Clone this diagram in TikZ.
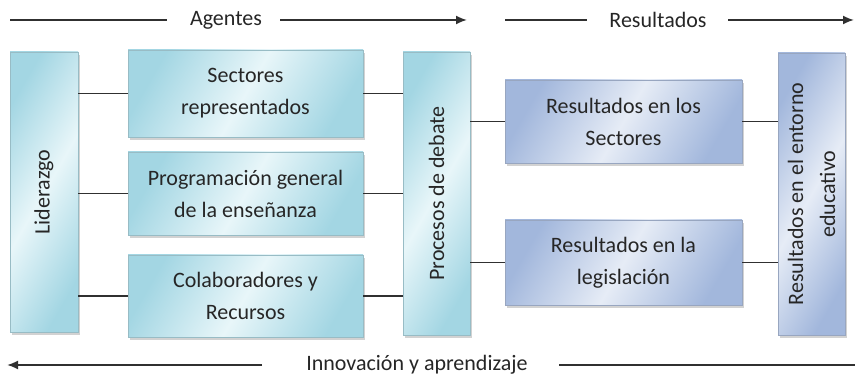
\documentclass[tikz,border=0pt]{standalone}
\usepackage{fontspec}
\setmainfont{Carlito}
\usetikzlibrary{arrows.meta,shadows}

\definecolor{agentcyan}{HTML}{A3D6E3}
\definecolor{agentlight}{HTML}{E8F6F9}
\definecolor{resblue}{HTML}{A2B7DC}
\definecolor{reslight}{HTML}{E6ECF6}
\definecolor{linegray}{HTML}{303030}

\tikzset{
  agentbox/.style={rectangle, inner sep=0pt, draw=agentcyan!70!gray, line width=0.4pt,
    left color=agentcyan, right color=agentcyan, middle color=agentlight, shading angle=60,
    drop shadow={shadow xshift=2pt, shadow yshift=-3pt, fill=gray!70}},
  resbox/.style={rectangle, inner sep=0pt, draw=resblue!70!gray, line width=0.4pt,
    left color=resblue, right color=resblue, middle color=reslight, shading angle=60,
    drop shadow={shadow xshift=2pt, shadow yshift=-3pt, fill=gray!70}},
  boxtext/.style={align=center, font=\fontsize{22}{32}\selectfont, text=black!85},
  link/.style={draw=linegray, line width=1.8pt},
  flow/.style={draw=linegray, line width=1.8pt, -{Latex[length=11pt,width=9pt]}}
}

\begin{document}
\begin{tikzpicture}[x=1pt, y=1pt]
  \useasboundingbox (0,0) rectangle (855,377);

  % Agents column
  \node[agentbox, minimum width=68, minimum height=280] (lid) at (44,185) {};
  \node[boxtext, rotate=90] (lidtext) at (lid) {Liderazgo};
  \node[agentbox, minimum width=235, minimum height=87, boxtext] (sect) at (245.5,283.5)
    {Sectores\\representados};
  \node[agentbox, minimum width=235, minimum height=83, boxtext] (prog) at (245.5,183.5)
    {Programación general\\de la enseñanza};
  \node[agentbox, minimum width=235, minimum height=82, boxtext] (colab) at (245.5,81)
    {Colaboradores y\\Recursos};

  % Debate
  \node[agentbox, minimum width=67, minimum height=283] (proc) at (436.5,183.5) {};
  \node[boxtext, rotate=90] (proctext) at (proc) {Procesos de debate};

  % Results
  \node[resbox, minimum width=237, minimum height=83, boxtext] (ressect) at (623.5,255.5)
    {Resultados en los\\Sectores};
  \node[resbox, minimum width=237, minimum height=85, boxtext] (resleg) at (623.5,114.5)
    {Resultados en la\\legislación};
  \node[resbox, minimum width=67, minimum height=282] (entorno) at (811.5,183) {};
  \node[boxtext, rotate=90] (entornotext) at (entorno) {Resultados en el entorno\\educativo};

  % Connectors
  \foreach \n in {sect, prog, colab} {
    \draw[link] (\n.west -| lid.east) -- (\n.west);
    \draw[link] (\n.east) -- (\n.east -| proc.west);
  }
  \foreach \n in {ressect, resleg} {
    \draw[link] (\n.west -| proc.east) -- (\n.west);
    \draw[link] (\n.east) -- (\n.east -| entorno.west);
  }

  % Flow labels on top
  \node[boxtext] (agentes) at (226,357) {Agentes};
  \coordinate (ag1) at (10,357);
  \coordinate (ag2) at (467,357);
  \draw[link] (ag1) -- (167,357);
  \draw[flow] (280,357) -- (ag2);

  \node[boxtext] (resultados) at (658,357) {Resultados};
  \coordinate (re1) at (505,357);
  \coordinate (re2) at (854,357);
  \draw[link] (re1) -- (587,357);
  \draw[flow] (728,357) -- (re2);

  % Feedback at the bottom
  \node[boxtext] (innov) at (417,12) {Innovación y aprendizaje};
  \coordinate (in1) at (7,12);
  \coordinate (in2) at (855,12);
  \draw[flow] (262,12) -- (in1);
  \draw[link] (559,12) -- (in2);
\end{tikzpicture}
\end{document}
